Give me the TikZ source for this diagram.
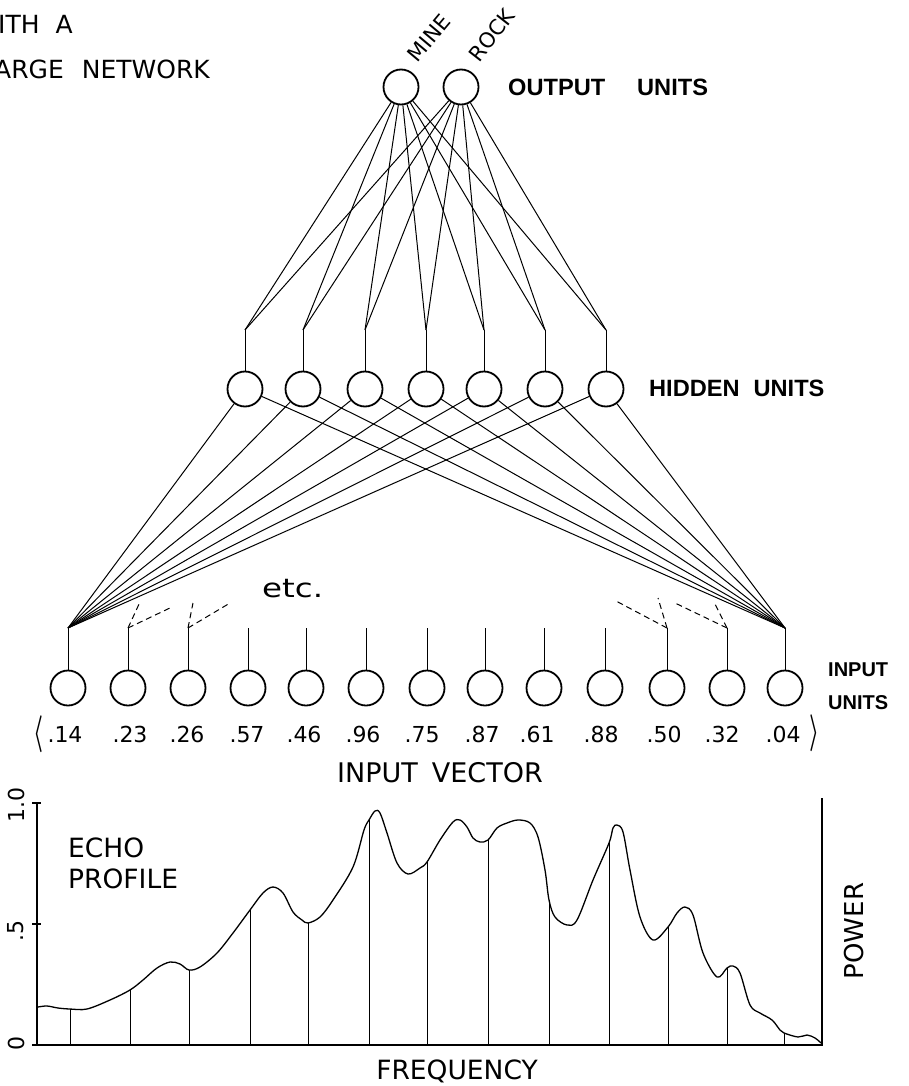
\documentclass[tikz,border=0pt]{standalone}
\usepackage{fontspec}
\usepackage{bm}
\setmainfont{DejaVu Sans}
\newfontfamily\labbold{Liberation Sans Bold}
\begin{document}
\begin{tikzpicture}[x=1pt,y=-1pt,
  unit/.style={circle,draw,line width=1.8pt,minimum size=35pt,inner sep=0pt},
  wire/.style={line width=1pt},
  dwire/.style={line width=1pt,dash pattern=on 6pt off 4pt},
  axis/.style={line width=2pt},
  sample/.style={line width=0.9pt},
  lab/.style={inner sep=0pt},
  boldlab/.style={inner sep=0pt,font=\labbold\fontsize{23.6}{28}\selectfont},
  numlab/.style={inner sep=0pt,anchor=base,font=\fontsize{22}{26}\selectfont},
  axlab/.style={inner sep=0pt,rotate=90,font=\fontsize{22}{26}\selectfont}]
\useasboundingbox (0,0) rectangle (908,1086);

% ---------- title fragment ----------
\node[lab,anchor=west,font=\fontsize{25}{30}\selectfont] (t1) at (-2,24) {ITH\hspace{16pt}A};
\node[lab,anchor=west,font=\fontsize{25}{30}\selectfont] (t2) at (-6,69) {ARGE\hspace{18pt}NETWORK};

% ---------- output units ----------
\node[unit] (o1) at (401,87) {};
\node[unit] (o2) at (461,87) {};
\node[lab,rotate=50,font=\fontsize{21}{24}\selectfont] (mine) at (429,38) {MINE};
\node[lab,rotate=52,font=\fontsize{21}{24}\selectfont] (rock) at (492,35) {ROCK};
\node[boldlab,anchor=west] (outl) at (508,87) {OUTPUT\hspace{32pt}UNITS};

% ---------- hidden units ----------
\foreach \x [count=\i] in {245,303,365,426,484,545,606} {
  \node[unit] (h\i) at (\x,389) {};
  \coordinate (ht\i) at (\x,330);
}
\node[boldlab,anchor=west] (hidl) at (649,388) {HIDDEN\hspace{14pt}UNITS};

% ---------- input units ----------
\foreach \x [count=\i] in {68,128,188,248,306,366,427,485,544,605,667,727,785} {
  \node[unit] (i\i) at (\x,688) {};
  \coordinate (it\i) at (\x,628);
}
\node[lab,anchor=west,align=left,font=\labbold\fontsize{20}{33}\selectfont] (inl) at (828,686) {INPUT\\UNITS};

% ---------- connectors ----------
\foreach \i in {1,...,7} {
  \draw[wire] (h\i) -- (ht\i);
  \draw[wire] (ht\i) -- (o1);
  \draw[wire] (ht\i) -- (o2);
}
\foreach \i in {1,...,13} {
  \draw[wire] (i\i) -- (it\i);
}
\foreach \i in {1,...,7} {
  \draw[wire] (it1) -- (h\i);
  \draw[wire] (it13) -- (h\i);
}

% ---------- dashed partial connections ----------
\coordinate (e2a) at (140,602);
\coordinate (e2b) at (172,607);
\coordinate (e3a) at (193,603);
\coordinate (e3b) at (230,603);
\coordinate (e11a) at (658,598);
\coordinate (e11b) at (616,601);
\coordinate (e12a) at (714,602);
\coordinate (e12b) at (675,603);
\draw[dwire] (it2) -- (e2a);
\draw[dwire] (it2) -- (e2b);
\draw[dwire] (it3) -- (e3a);
\draw[dwire] (it3) -- (e3b);
\draw[dwire] (it11) -- (e11a);
\draw[dwire] (it11) -- (e11b);
\draw[dwire] (it12) -- (e12a);
\draw[dwire] (it12) -- (e12b);
\node[lab,anchor=base west,font=\fontsize{26}{30}\selectfont] (etc) at (262,597) {\scalebox{1.25}[1]{etc.}};

% ---------- input vector ----------
\node[lab] (lb) at (38,734) {\resizebox*{10pt}{37pt}{$\bm{\langle}$}};
\foreach \x/\v in {65/.14,130/.23,187/.26,247/.57,304/.46,363/.96,422/.75,482/.87,537/.61,601/.88,664/.50,722/.32,783/.04} {
  \node[numlab] at (\x,742) {\v};
}
\node[lab] (rb) at (814,733) {\resizebox*{10pt}{37pt}{$\bm{\rangle}$}};
\node[lab,font=\fontsize{27}{30}\selectfont] (ivec) at (440,773) {INPUT\hspace{14pt}VECTOR};

% ---------- echo profile chart ----------
\draw[axis] (32,803) -- (41,803);
\draw[axis] (32,924) -- (41,924);
\draw[axis] (37,803) -- (37,1045);
\draw[axis] (32,1045) -- (822,1045);
\draw[line width=2.4pt] (822,798) -- (822,1046);
\draw[line width=1.3pt] plot[smooth,tension=0.55] coordinates {
 (38,1007) (47,1006) (58,1008) (70,1009) (87,1009) (110,1000) (130,990) (143,980)
 (157,968) (170,962) (180,964) (189,970) (200,967) (217,953) (233,933) (250,910)
 (263,893) (273,887) (283,893) (293,912) (302,920) (308,923) (320,917) (333,900)
 (353,867) (364,830) (369,820) (375,811) (380,813) (387,833) (397,863) (408,874)
 (420,868) (427,862) (440,840) (453,822) (460,820) (467,827) (473,838) (480,842)
 (488,840) (497,828) (507,823) (518,820) (530,823) (538,837) (545,870) (549,900)
 (555,917) (567,925) (577,920) (593,880) (609,843) (613,828) (617,825) (623,832)
 (630,870) (640,917) (653,940) (668,927) (677,913) (685,907) (693,915) (703,953)
 (717,977) (727,968) (733,966) (740,973) (750,1005) (760,1013) (772,1020) (780,1030)
 (784,1033) (798,1037) (807,1035) (815,1038) (821,1043)};
\foreach \x/\y in {70/1009,130/990,189/970,250/910,308/923,369/820,427/862,488/840,549/900,609/843,668/927,727/968,784/1033} {
  \draw[sample] (\x,1045) -- (\x,\y);
}
\node[lab,anchor=north west,align=left,font=\fontsize{26.5}{31}\selectfont] (echo) at (68,838) {ECHO\\PROFILE};
\node[axlab] (y1) at (16,805) {1.0};
\node[axlab] (y5) at (16,931) {.5};
\node[axlab] (y0) at (16,1043) {0};
\node[lab,font=\fontsize{26.5}{30}\selectfont] (freq) at (457,1071) {FREQUENCY};
\node[lab,rotate=90,font=\fontsize{26}{30}\selectfont] (pow) at (854,931) {POWER};
\end{tikzpicture}
\end{document}
